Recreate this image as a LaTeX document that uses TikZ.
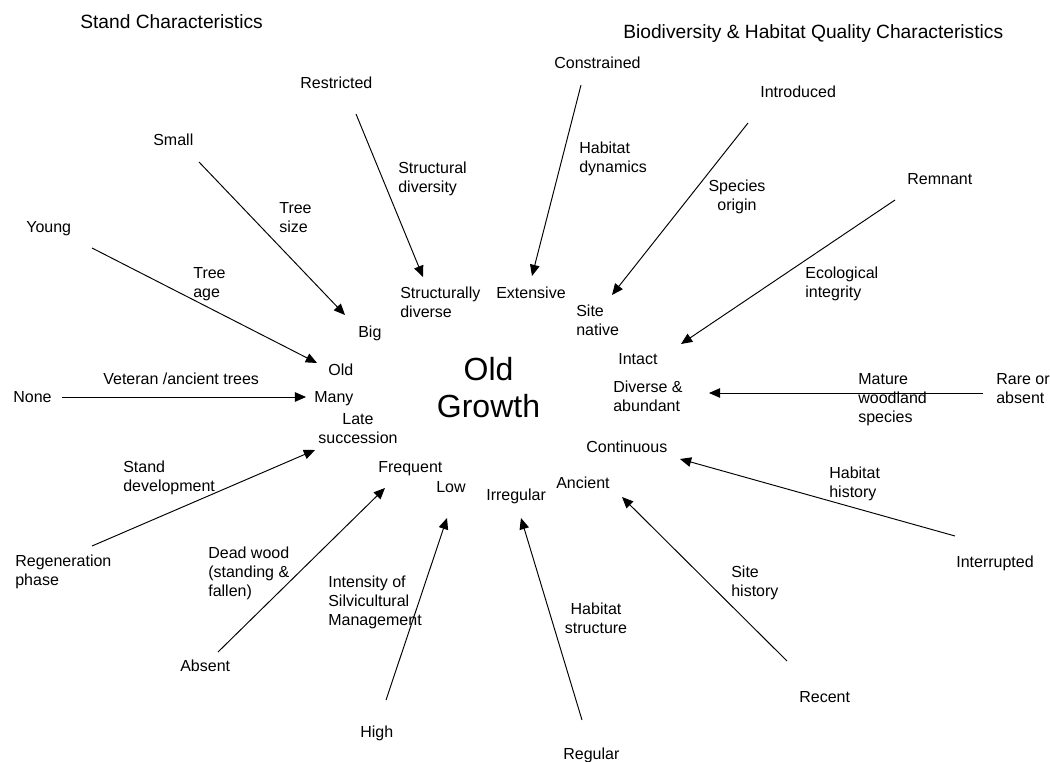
\documentclass[tikz,border=0pt]{standalone}
\usepackage{fontspec}
\setmainfont{Liberation Sans}
\usetikzlibrary{arrows.meta}
\tikzset{
  lbl/.style={inner sep=0pt, anchor=north west, align=left, font=\fontsize{10}{11.9}\selectfont},
  clbl/.style={inner sep=0pt, anchor=north, align=center, font=\fontsize{10}{11.9}\selectfont},
  head/.style={inner sep=0pt, anchor=north west, font=\fontsize{12}{13.8}\selectfont},
  title/.style={inner sep=0pt, anchor=north, align=center, font=\fontsize{20}{23.1}\selectfont},
  link/.style={line width=0.6pt, -{Triangle[length=7pt,width=6pt]}}
}
\begin{document}
\begin{tikzpicture}[x=0.625pt,y=-0.625pt]
\useasboundingbox (0,0) rectangle (1050,762);
% headings
\node[head] (hstand) at (80,14) {Stand Characteristics};
\node[head] (hbio) at (623,24) {Biodiversity \& Habitat Quality Characteristics};
% title
\node[title] (og) at (488.5,357) {Old\\Growth};
% outer labels
\node[lbl] (restricted) at (300,77) {Restricted};
\node[lbl] (constrained) at (554,57) {Constrained};
\node[lbl] (introduced) at (760,86) {Introduced};
\node[lbl] (remnant) at (907,173) {Remnant};
\node[lbl] (small) at (153,134) {Small};
\node[lbl] (young) at (26,221) {Young};
\node[lbl] (none) at (13,391) {None};
\node[lbl] (rare) at (996,373) {Rare or\\absent};
\node[lbl] (regen) at (15,555) {Regeneration\\phase};
\node[lbl] (absent) at (180,660) {Absent};
\node[lbl] (high) at (360,726) {High};
\node[lbl] (regular) at (563,748) {Regular};
\node[lbl] (recent) at (799,691) {Recent};
\node[lbl] (interrupted) at (956,556) {Interrupted};
% inner labels
\node[lbl] (big) at (358,326) {Big};
\node[lbl] (structd) at (400,287) {Structurally\\diverse};
\node[lbl] (extensive) at (496,287) {Extensive};
\node[lbl] (sitenative) at (576,305) {Site\\native};
\node[lbl] (old) at (328,364) {Old};
\node[lbl] (intact) at (618,353) {Intact};
\node[lbl] (many) at (314,391) {Many};
\node[lbl] (diverse) at (613,381) {Diverse \&\\abundant};
\node[clbl] (late) at (358,413) {Late\\succession};
\node[lbl] (continuous) at (586,441) {Continuous};
\node[lbl] (frequent) at (378,461) {Frequent};
\node[lbl] (low) at (436,481) {Low};
\node[lbl] (irregular) at (486,489) {Irregular};
\node[lbl] (ancient) at (556,477) {Ancient};
% connector labels
\node[lbl] (ltreesize) at (279,202) {Tree\\size};
\node[lbl] (lstructdiv) at (398,162) {Structural\\diversity};
\node[lbl] (lhabdyn) at (579,142) {Habitat\\dynamics};
\node[clbl] (lspecies) at (737,180) {Species\\origin};
\node[lbl] (leco) at (805,267) {Ecological\\integrity};
\node[lbl] (ltreeage) at (193,267) {Tree\\age};
\node[lbl] (lveteran) at (103,373) {Veteran /ancient trees};
\node[lbl] (lmature) at (858,373) {Mature\\woodland\\species};
\node[lbl] (lstanddev) at (123,461) {Stand\\development};
\node[lbl] (lhabhist) at (829,467) {Habitat\\history};
\node[lbl] (ldead) at (208,547) {Dead wood\\(standing \&\\fallen)};
\node[lbl] (lintensity) at (328,576) {Intensity of\\Silvicultural\\Management};
\node[lbl] (lsitehist) at (731,566) {Site\\history};
\node[clbl] (lhabstruct) at (596,603) {Habitat\\structure};
% connector end points
\coordinate (sYoung) at (92,248);   \coordinate (tOld) at (317,363);
\coordinate (sSmall) at (199,162);  \coordinate (tBig) at (345,315);
\coordinate (sRestr) at (356,114);  \coordinate (tStruct) at (423,277);
\coordinate (sConstr) at (581,85);  \coordinate (tExt) at (532,276);
\coordinate (sIntro) at (748,123);  \coordinate (tSite) at (612,295);
\coordinate (sRemn) at (895,200);   \coordinate (tIntact) at (681,344);
\coordinate (sNone) at (62,397);    \coordinate (tMany) at (306,397);
\coordinate (sRare) at (983,393);   \coordinate (tDiv) at (709,393);
\coordinate (sRegen) at (92,546);   \coordinate (tLate) at (315,450);
\coordinate (sAbs) at (218,652);    \coordinate (tFreq) at (385,488);
\coordinate (sHigh) at (386,700);   \coordinate (tLow) at (447,518);
\coordinate (sReg) at (582,720);    \coordinate (tIrr) at (521,518);
\coordinate (sRec) at (787,661);    \coordinate (tAnc) at (622,497);
\coordinate (sInt) at (955,536);    \coordinate (tCont) at (680,459);
% connectors
\draw[link] (sYoung) -- (tOld);
\draw[link] (sSmall) -- (tBig);
\draw[link] (sRestr) -- (tStruct);
\draw[link] (sConstr) -- (tExt);
\draw[link] (sIntro) -- (tSite);
\draw[link] (sRemn) -- (tIntact);
\draw[link] (sNone) -- (tMany);
\draw[link] (sRare) -- (tDiv);
\draw[link] (sRegen) -- (tLate);
\draw[link] (sAbs) -- (tFreq);
\draw[link] (sHigh) -- (tLow);
\draw[link] (sReg) -- (tIrr);
\draw[link] (sRec) -- (tAnc);
\draw[link] (sInt) -- (tCont);
\end{tikzpicture}
\end{document}
